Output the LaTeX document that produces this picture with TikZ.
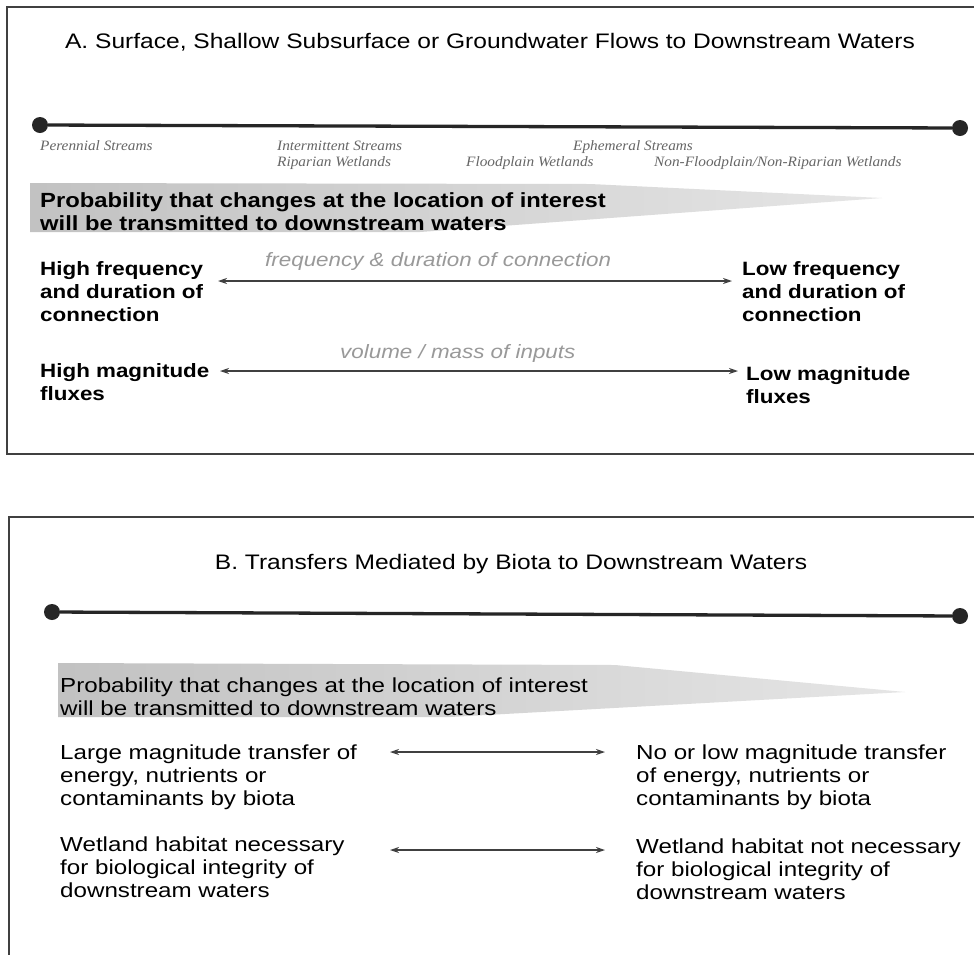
\documentclass[tikz,border=0pt]{standalone}
\usepackage{fontspec}
\setmainfont[FakeStretch=1.16]{Liberation Sans}
\newfontfamily\wideregular[FakeStretch=1.19]{Liberation Sans}
\newfontfamily\titlefont[FakeStretch=1.17]{Liberation Sans}
\newfontfamily\labfont[FakeStretch=1.07]{Liberation Serif}
\usetikzlibrary{arrows.meta}
\tikzset{
  frame/.style={draw=black!75, line width=1.3pt},
  axis/.style={draw=black!85, line width=3.3pt},
  enddot/.style={circle, fill=black!85, minimum size=16pt, inner sep=0pt},
  wedge/.style={left color=black!24, right color=black!10},
  title/.style={font=\titlefont\fontsize{21}{24}\selectfont, anchor=base, inner sep=0pt},
  lab/.style={font=\labfont\itshape\fontsize{14.3}{15}\selectfont, text=black!60, anchor=base west, inner sep=0pt},
  txt/.style={font=\wideregular\fontsize{20.3}{23}\selectfont, anchor=north west, align=left, inner sep=0pt},
  btxt/.style={txt, font=\bfseries\fontsize{19.3}{23}\selectfont},
  ptxt/.style={txt, font=\bfseries\fontsize{20.5}{23}\selectfont},
  glab/.style={font=\itshape\fontsize{19.3}{21}\selectfont, text=black!40, anchor=base west, inner sep=0pt},
  dbl/.style={{Stealth[length=9pt,width=6pt]}-{Stealth[length=9pt,width=6pt]}, line width=1.5pt, draw=black!75}
}
\begin{document}
\begin{tikzpicture}[x=1pt,y=-1pt]
\useasboundingbox (0,0) rectangle (974,954);
\fill[white] (0,0) rectangle (974,954);

% ---------- Panel A ----------
\draw[frame] (7,7) rectangle (1000,454);
\node[title] (ta) at (490,48) {A. Surface, Shallow Subsurface or Groundwater Flows to Downstream Waters};

\node[enddot] (al) at (40,125) {};
\node[enddot] (ar) at (960,128) {};
\draw[axis] (al) -- (ar);

\node[lab] (l1) at (40,150) {Perennial Streams};
\node[lab] (l2) at (277,150) {Intermittent Streams};
\node[lab] (l3) at (573,150) {Ephemeral Streams};
\node[lab] (l4) at (277,166) {Riparian Wetlands};
\node[lab] (l5) at (466,166) {Floodplain Wetlands};
\node[lab] (l6) at (654,166) {Non-Floodplain/Non-Riparian Wetlands};

\shade[wedge] (30,183) -- (590,184) -- (882,198) -- (420,232) -- (30,232) -- cycle;
\node[ptxt] (pa) at (40,192) {Probability that changes at the location of interest\\will be transmitted to downstream waters};

\node[btxt] (hf) at (40,261) {High frequency\\and duration of\\connection};
\node[btxt] (lf) at (742,261) {Low frequency\\and duration of\\connection};
\coordinate (a1s) at (218,281);
\coordinate (a1e) at (732,281);
\draw[dbl] (a1s) -- (a1e);
\node[glab] (g1) at (265,266) {frequency \& duration of connection};

\node[btxt] (hm) at (40,363) {High magnitude\\fluxes};
\node[btxt] (lm) at (746,366) {Low magnitude\\fluxes};
\coordinate (a2s) at (220,371);
\coordinate (a2e) at (738,371);
\draw[dbl] (a2s) -- (a2e);
\node[glab] (g2) at (340,358) {volume / mass of inputs};

% ---------- Panel B ----------
\draw[frame] (9,517) rectangle (1000,1000);
\node[title] (tb) at (511,569) {B. Transfers Mediated by Biota to Downstream Waters};

\node[enddot] (bl) at (52,612) {};
\node[enddot] (br) at (960,616) {};
\draw[axis] (bl) -- (br);

\shade[wedge] (58,663) -- (615,665) -- (905,692) -- (450,717) -- (58,717) -- cycle;
\node[txt] (pb) at (60,678) {Probability that changes at the location of interest\\will be transmitted to downstream waters};

\node[txt] (lt) at (60,745) {Large magnitude transfer of\\energy, nutrients or\\contaminants by biota};
\node[txt] (nt) at (636,745) {No or low magnitude transfer\\of energy, nutrients or\\contaminants by biota};
\coordinate (b1s) at (390,752);
\coordinate (b1e) at (605,752);
\draw[dbl] (b1s) -- (b1e);

\node[txt] (wn) at (60,837) {Wetland habitat necessary\\for biological integrity of\\downstream waters};
\node[txt] (wx) at (636,839) {Wetland habitat not necessary\\for biological integrity of\\downstream waters};
\coordinate (b2s) at (390,850);
\coordinate (b2e) at (605,850);
\draw[dbl] (b2s) -- (b2e);
\end{tikzpicture}
\end{document}
